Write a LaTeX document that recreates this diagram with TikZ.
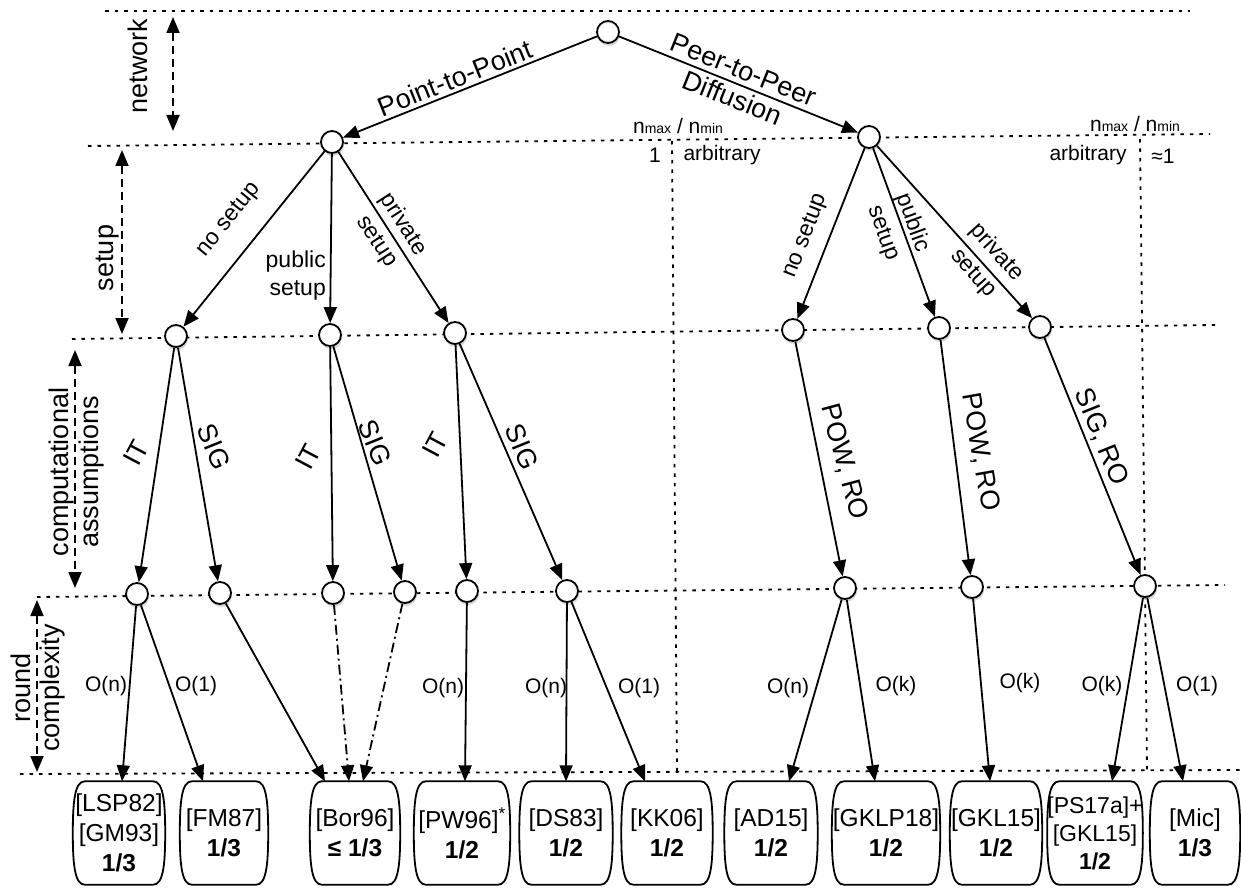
\documentclass[tikz,border=0pt]{standalone}
\usepackage{fontspec}
\setmainfont{Liberation Sans}
\usetikzlibrary{arrows.meta,shadows}
\newcommand{\fbig}{\fontsize{27}{30}\selectfont}
\newcommand{\fmid}{\fontsize{21}{26}\selectfont}
\newcommand{\fset}{\fontsize{23}{31}\selectfont}
\newcommand{\fref}{\fontsize{24.5}{30}\selectfont}
\newcommand{\fsm}{\fontsize{14}{16}\selectfont}
\newcommand{\barrelbox}[1]{\draw[line width=1.8pt] ([xshift=12]#1.north west) -- ([xshift=-12]#1.north east) .. controls ([xshift=-2]#1.north east) and ([yshift=32]#1.east) .. (#1.east) .. controls ([yshift=-32]#1.east) and ([xshift=-2]#1.south east) .. ([xshift=-12]#1.south east) -- ([xshift=12]#1.south west) .. controls ([xshift=2]#1.south west) and ([yshift=-32]#1.west) .. (#1.west) .. controls ([yshift=32]#1.west) and ([xshift=2]#1.north west) .. cycle;}
\begin{document}
\begin{tikzpicture}[x=1pt,y=-1pt,
  tip/.style={-{Triangle[length=16pt,width=13pt]}},
  conn/.style={line width=1.8pt,tip},
  dd/.style={line width=1.8pt,{Triangle[length=16pt,width=13pt]}-{Triangle[length=16pt,width=13pt]},dash pattern=on 8pt off 5pt},
  dotline/.style={line width=1.8pt,dash pattern=on 3.5pt off 6pt},
  vnode/.style={circle,draw,line width=1.8pt,fill=white,minimum size=22pt,inner sep=0pt,
     drop shadow={shadow xshift=1pt,shadow yshift=-3pt,opacity=0.3}},
  refbox/.style={minimum height=103pt,inner sep=0pt,align=center,font=\fref},
  big/.style={font=\fbig,inner sep=0pt},
  mid/.style={font=\fmid,inner sep=0pt},
  setl/.style={font=\fset,inner sep=0pt}]
\useasboundingbox (0,0) rectangle (1241,890);
% dotted guide lines
\draw[dotline] (105,11) -- (1190,11);
\draw[dotline] (88,146) -- (1210,134);
\draw[dotline] (72,339) -- (1215,325);
\draw[dotline] (37,597) -- (1225,585);
\draw[dotline] (20,774) -- (1240,770);
\draw[dotline] (672,141) -- (677,771);
\draw[dotline] (1140,139) -- (1147,770);
% side arrows
\coordinate (na) at (173,17); \coordinate (nb) at (173,131);
\coordinate (sa) at (122,150); \coordinate (sb) at (122,334);
\coordinate (ca) at (75,350); \coordinate (cb) at (75,588);
\coordinate (ra) at (37,600); \coordinate (rb) at (37,772);
\draw[dd] (na) -- (nb);
\draw[dd] (sa) -- (sb);
\draw[dd] (ca) -- (cb);
\draw[dd] (ra) -- (rb);
\node[big,rotate=90] (lnet) at (138,66) {network};
\node[big,rotate=90] (lset) at (108,258) {setup};
\node[big,rotate=90,align=center,font=\fontsize{27}{30}\selectfont] (lcomp) at (77,472) {computational\\assumptions};
\node[big,rotate=90,align=center,font=\fontsize{27}{29}\selectfont] (lround) at (38,688) {round\\complexity};
% nmax/nmin labels
\node[mid] (nm1) at (678,126) {n{\fsm max} / n{\fsm min}};
\node[mid] (nm2) at (1135,124) {n{\fsm max} / n{\fsm min}};
\node[mid,anchor=east] (one1) at (661,155) {1};
\node[mid] (arb1) at (722,155) {arbitrary};
\node[mid] (arb2) at (1088,155) {arbitrary};
\node[mid] (one2) at (1163,156) {≈1};
% tree nodes
\node[vnode] (root) at (608,32) {};
\node[vnode] (p2p) at (332,142) {};
\node[vnode] (pd) at (869,137) {};
\node[vnode] (a1) at (176,336) {};
\node[vnode] (a2) at (330,335) {};
\node[vnode] (a3) at (455,333) {};
\node[vnode] (a4) at (793,330) {};
\node[vnode] (a5) at (939,328) {};
\node[vnode] (a6) at (1040,327) {};
\node[vnode] (b1) at (137,594) {};
\node[vnode] (b2) at (220,593) {};
\node[vnode] (b3) at (333,593) {};
\node[vnode] (b4) at (405,592) {};
\node[vnode] (b5) at (467,591) {};
\node[vnode] (b6) at (567,591) {};
\node[vnode] (b7) at (845,588) {};
\node[vnode] (b8) at (972,587) {};
\node[vnode] (b9) at (1145,586) {};
% reference boxes
\node[refbox,minimum width=92pt] (r1) at (119,833) {[LSP82]\\{}[GM93]\\\textbf{1/3}};
\node[refbox,minimum width=88pt] (r2) at (224,833) {[FM87]\\\textbf{1/3}};
\node[refbox,minimum width=90pt] (r3) at (355,833) {[Bor96]\\\textbf{≤ 1/3}};
\node[refbox,minimum width=96pt] (r4) at (462,833) {[PW96]\textsuperscript{*}\\\textbf{1/2}};
\node[refbox,minimum width=93pt] (r5) at (566,833) {[DS83]\\\textbf{1/2}};
\node[refbox,minimum width=91pt] (r6) at (667,833) {[KK06]\\\textbf{1/2}};
\node[refbox,minimum width=93pt] (r7) at (771,833) {[AD15]\\\textbf{1/2}};
\node[refbox,minimum width=108pt] (r8) at (886,833) {[GKLP18]\\\textbf{1/2}};
\node[refbox,minimum width=92pt] (r9) at (996,833) {[GKL15]\\\textbf{1/2}};
\node[refbox,minimum width=88pt,font=\fontsize{23}{28}\selectfont] (r10) at (1095,833) {[PS17a]+\\{}[GKL15]\\\textbf{1/2}};
\node[refbox,minimum width=90pt] (r11) at (1195,833) {[Mic]\\\textbf{1/3}};
\foreach \r in {r1,r2,r3,r4,r5,r6,r7,r8,r9,r10,r11} {\barrelbox{\r}}
% edges level 0
\draw[conn] (root) -- (p2p);
\draw[conn] (root) -- (pd);
\node[big,rotate=21.7] at (455,78) {Point-to-Point};
\node[big,rotate=-21.8,align=center] at (738,84) {Peer-to-Peer\\Diffusion};
% level 1
\draw[conn] (p2p) -- (a1);
\draw[conn] (p2p) -- (a2);
\draw[conn] (p2p) -- (a3);
\draw[conn] (pd) -- (a4);
\draw[conn] (pd) -- (a5);
\draw[conn] (pd) -- (a6);
\node[setl,rotate=51] at (229,220) {no setup};
\node[setl,align=right,anchor=east,font=\fontsize{23}{28}\selectfont] at (326,276) {public\\setup};
\node[setl,rotate=-57,align=center] at (390,233) {private\\setup};
\node[setl,rotate=69] at (806,236) {no setup};
\node[setl,rotate=-70,align=center] at (898,228) {public\\setup};
\node[setl,rotate=-48,align=center] at (985,263) {private\\setup};
% level 2
\draw[conn] (a1) -- (b1);
\draw[conn] (a1) -- (b2);
\draw[conn] (a2) -- (b3);
\draw[conn] (a2) -- (b4);
\draw[conn] (a3) -- (b5);
\draw[conn] (a3) -- (b6);
\draw[conn] (a4) -- (b7);
\draw[conn] (a5) -- (b8);
\draw[conn] (a6) -- (b9);
\node[big,rotate=62] at (136,453) {IT};
\node[big,rotate=62] at (308,457) {IT};
\node[big,rotate=62] at (435,445) {IT};
\node[big,rotate=-68] at (214,447) {SIG};
\node[big,rotate=-68] at (375,443) {SIG};
\node[big,rotate=-68] at (522,447) {SIG};
\node[big,rotate=-75] at (844,462) {POW, RO};
\node[big,rotate=-80] at (980,452) {POW, RO};
\node[big,rotate=-68] at (1101,437) {SIG, RO};
% level 3
\draw[conn] (b1) -- ([xshift=3]r1.north);
\draw[conn] (b1) -- ([xshift=-21]r2.north);
\draw[conn] (b2) -- ([xshift=-30]r3.north);
\draw[conn,dash pattern=on 10pt off 4pt on 2pt off 4pt] (b3) -- ([xshift=-6]r3.north);
\draw[conn,dash pattern=on 10pt off 4pt on 2pt off 4pt] (b4) -- ([xshift=8]r3.north);
\draw[conn] (b5) -- ([xshift=3]r4.north);
\draw[conn] (b6) -- ([xshift=0]r5.north);
\draw[conn] (b6) -- ([xshift=-22]r6.north);
\draw[conn] (b7) -- ([xshift=18]r7.north);
\draw[conn] (b7) -- ([xshift=-11]r8.north);
\draw[conn] (b8) -- ([xshift=-6]r9.north);
\draw[conn] (b9) -- ([xshift=17]r10.north);
\draw[conn] (b9) -- ([xshift=-12]r11.north);
\node[mid] at (106,686) {O(n)};
\node[mid] at (196,686) {O(1)};
\node[mid] at (443,688) {O(n)};
\node[mid] at (546,688) {O(n)};
\node[mid] at (639,688) {O(1)};
\node[mid] at (788,688) {O(n)};
\node[mid] at (896,686) {O(k)};
\node[mid] at (1020,683) {O(k)};
\node[mid] at (1102,686) {O(k)};
\node[mid] at (1197,686) {O(1)};
\end{tikzpicture}
\end{document}
